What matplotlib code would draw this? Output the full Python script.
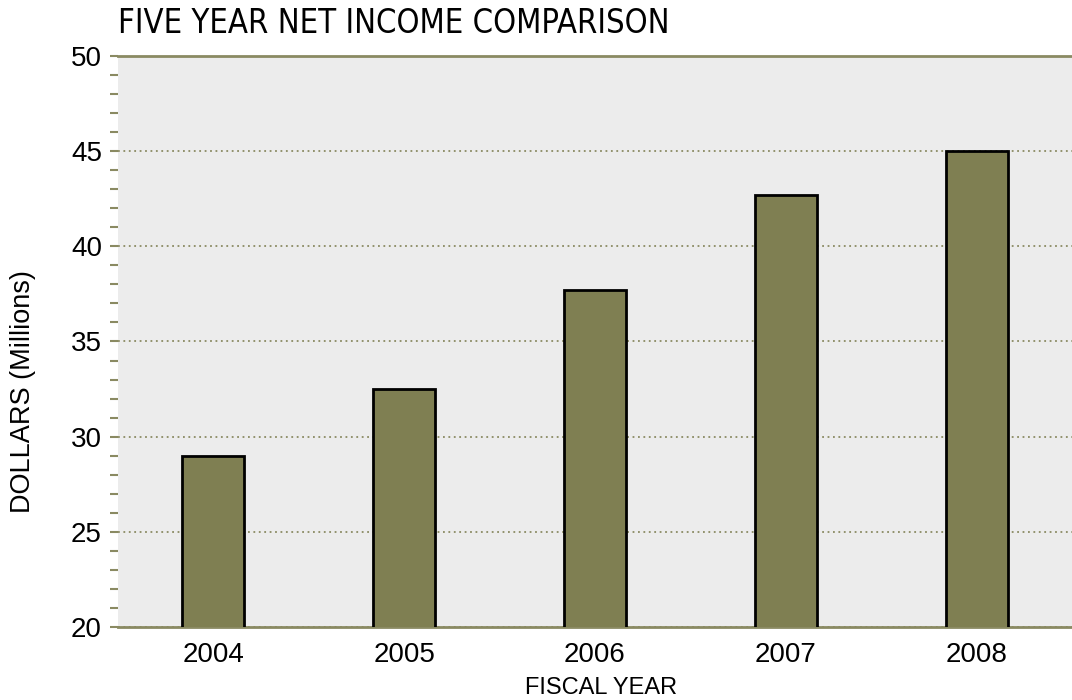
import numpy as np
import matplotlib.pyplot as plt
from matplotlib import font_manager
from matplotlib.ticker import MultipleLocator

# net income per fiscal year, millions of dollars
years = ['2004', '2005', '2006', '2007', '2008']
income = [29.0, 32.5, 37.7, 42.7, 45.0]

olive = '#7f7f52'
line_col = '#8a8a62'


def narrow_font():
    # pick a condensed face if one is installed, else plain Liberation Sans
    for fam, stretch in [('Liberation Sans Narrow', 'normal'),
                         ('DejaVu Sans', 'condensed')]:
        fp = font_manager.FontProperties(family=fam, stretch=stretch)
        try:
            path = font_manager.findfont(fp, fallback_to_default=False)
        except Exception:
            continue
        if 'Narrow' in path or 'Condensed' in path:
            return fp
    return font_manager.FontProperties(family='Liberation Sans')


fig = plt.figure(figsize=(10.72, 7.0), dpi=100)
ax = fig.add_axes([0.110, 0.1043, 0.890, 0.8157])
ax.set_facecolor('#ececec')

x = np.arange(len(years))
ax.bar(x, income, width=0.325, bottom=0, color=olive,
       edgecolor='black', linewidth=2.0, zorder=3)

ax.set_xlim(-0.5, 4.5)
ax.set_ylim(20, 50)
ax.set_xticks(x)
ax.set_xticklabels(years)
ax.yaxis.set_major_locator(MultipleLocator(5))
ax.yaxis.set_minor_locator(MultipleLocator(1))

ax.grid(axis='y', which='major', linestyle=(0, (1, 2)), color=line_col,
        linewidth=1.3, zorder=1)

for s in ['left', 'right']:
    ax.spines[s].set_visible(False)
for s in ['top', 'bottom']:
    ax.spines[s].set_color(line_col)
    ax.spines[s].set_linewidth(2.0)

ax.tick_params(axis='y', which='both', color=line_col, width=1.5,
               length=6, labelsize=20, pad=5.5)
ax.tick_params(axis='x', length=0, labelsize=20, pad=10.5)
for lab in ax.get_xticklabels() + ax.get_yticklabels():
    lab.set_family('Liberation Sans')

fig.text(0.561, 0.017, 'FISCAL YEAR', fontsize=17, family='Liberation Sans',
         ha='center', va='center')
fig.text(0.021, 0.44, 'DOLLARS (Millions)', fontsize=19.5,
         family='Liberation Sans', rotation=90, ha='center', va='center')

title_fp = narrow_font()
title_fp.set_size(23.5)
fig.text(0.110, 0.953, 'FIVE YEAR NET INCOME COMPARISON',
         fontproperties=title_fp, ha='left', va='baseline')

plt.savefig('out.png', dpi=100)
